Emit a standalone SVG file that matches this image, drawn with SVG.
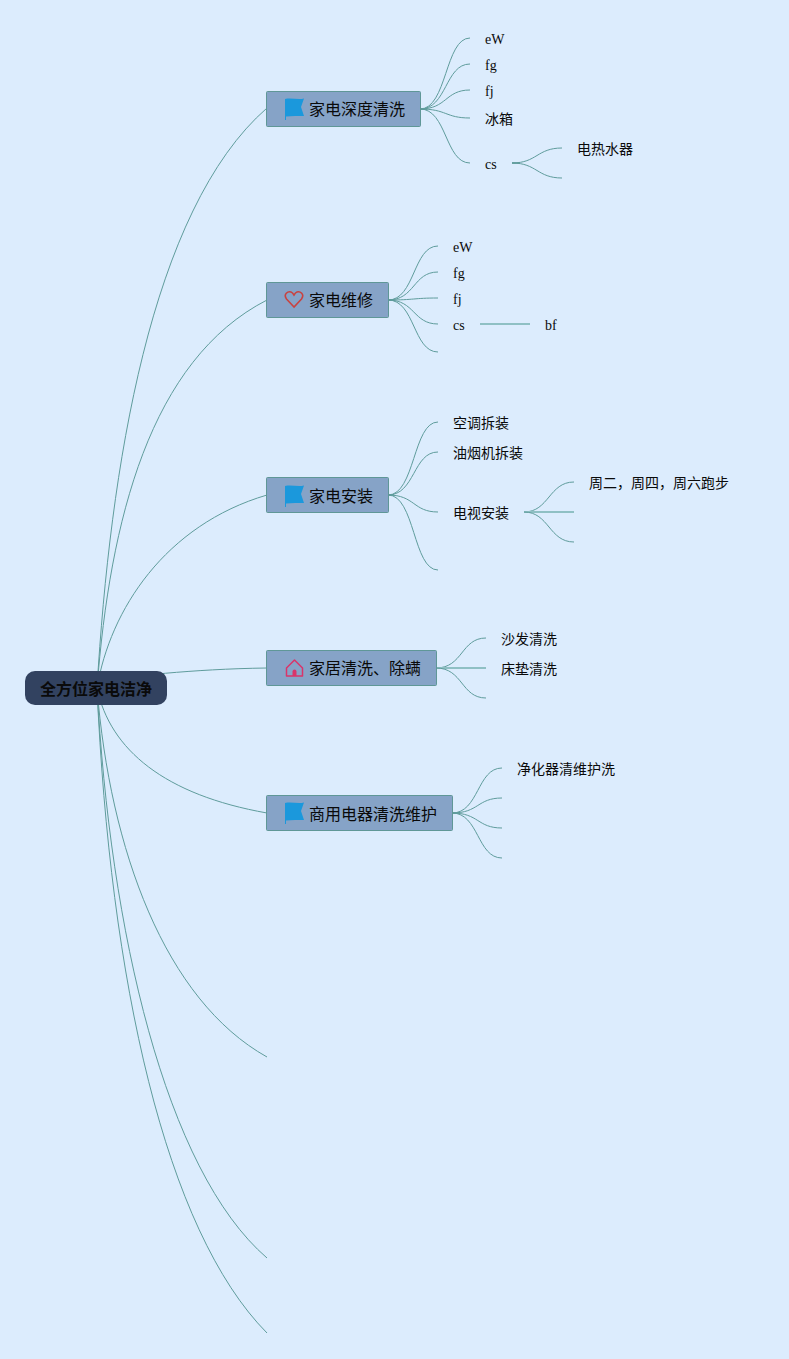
<svg xmlns="http://www.w3.org/2000/svg" width="789" height="1359" viewBox="0 0 789 1359">
<style>
.c{fill:none;stroke:#5f9c9c;stroke-width:1}
.t{stroke-width:2;stroke:#8fc0c4}
.s{fill:none;stroke:#5f9c9c;stroke-width:1.500}
.b{fill:#86a3c7;stroke:#5f9797;stroke-width:1}
.n{font:16px "Liberation Serif","Noto Sans CJK SC",serif;fill:#0a0a0a}
.l{font:14px "Liberation Serif","Noto Sans CJK SC",serif;fill:#0a0a0a}
.r{font:bold 16px "Liberation Serif","Noto Sans CJK SC",serif;fill:#0a0a0a}
</style>
<defs>
<path id="flag" d="M0 1C6 -0.500 13 2 19 0.500L16 9L19 18C13 18 7 18 1 18.500V22H0Z" fill="#1b98dc"/>
</defs>
<rect width="789" height="1359" fill="#dcecfd"/>
<g id="connectors">
<path class="c" d="M97 688C110 470 150 210 267 108"/>
<path class="c" d="M97 688C110 520 150 360 267 300"/>
<path class="c" d="M97 688C110 610 165 525 267 495"/>
<path class="c" d="M97 680C130 677 190 669 267 668"/>
<path class="c" d="M97 688C110 750 165 795 267 813"/>
<path class="c" d="M97 688C110 850 165 1000 267 1057"/>
<path class="c" d="M97 688C110 930 165 1170 267 1258"/>
<path class="c" d="M97 688C110 980 165 1230 267 1333"/>
<path class="s" d="M420 109h7M512 163h8M388 300h6M388 495h6M524 512h8M436 668h7M452 813h7"/>
<path class="c" d="M420 109C447 109 445 38 470 38"/>
<path class="c" d="M420 109C447 109 445 64 470 64"/>
<path class="c" d="M420 109C447 109 445 90 470 90"/>
<path class="c" d="M420 109C447 109 445 118 470 118"/>
<path class="c" d="M420 109C447 109 445 163 470 163"/>
<path class="c" d="M512 163C537 163 537 148 562 148"/>
<path class="c" d="M512 163C537 163 537 178 562 178"/>
<path class="c" d="M388 300C415 300 413 246 438 246"/>
<path class="c" d="M388 300C415 300 413 272 438 272"/>
<path class="c" d="M388 300C415 300 413 298 438 298"/>
<path class="c" d="M388 300C415 300 413 324 438 324"/>
<path class="c" d="M388 300C415 300 413 352 438 352"/>
<path class="c t" d="M480 324H530"/>
<path class="c" d="M388 495C415 495 413 422 438 422"/>
<path class="c" d="M388 495C415 495 413 452 438 452"/>
<path class="c" d="M388 495C415 495 413 512 438 512"/>
<path class="c" d="M388 495C415 495 413 570 438 570"/>
<path class="c" d="M524 512C549 512 549 482 574 482"/>
<path class="c t" d="M524 512H574"/>
<path class="c" d="M524 512C549 512 549 542 574 542"/>
<path class="c" d="M436 668C463 668 461 638 486 638"/>
<path class="c t" d="M436 668H486"/>
<path class="c" d="M436 668C463 668 461 698 486 698"/>
<path class="c" d="M452 813C479 813 477 768 502 768"/>
<path class="c" d="M452 813C479 813 477 798 502 798"/>
<path class="c" d="M452 813C479 813 477 828 502 828"/>
<path class="c" d="M452 813C479 813 477 858 502 858"/>
</g>
<g id="root">
<rect x="25" y="671" width="142" height="34" rx="10" fill="#324260"/>
<text class="r" x="40" y="695">全方位家电洁净</text>
</g>
<g id="n1">
<rect class="b" x="266.500" y="91.500" width="154" height="35" rx="1"/>
<use href="#flag" x="285" y="98"/>
<text class="n" x="309" y="115">家电深度清洗</text>
</g>
<g id="n2">
<rect class="b" x="266.500" y="282.500" width="122" height="35" rx="1"/>
<path d="M294 307L286.500 299C283 294 288 291 291 292C292.500 292.500 294 295 294 295C294 295 295.500 292.500 297 292C300 291 305 294 301.500 299Z" fill="none" stroke="#c9423f" stroke-width="1.600"/>
<text class="n" x="309" y="306">家电维修</text>
</g>
<g id="n3">
<rect class="b" x="266.500" y="477.500" width="122" height="35" rx="1"/>
<use href="#flag" x="285" y="485"/>
<text class="n" x="309" y="502">家电安装</text>
</g>
<g id="n4">
<rect class="b" x="266.500" y="650.500" width="170" height="35" rx="1"/>
<path d="M286.500 668L294.500 660L302.500 668V676H286.500Z" fill="none" stroke="#d9346a" stroke-width="1.500" stroke-linejoin="round"/>
<path d="M292.500 676V671.500A2 2 0 0 1 296.500 671.500V676Z" fill="#d9346a"/>
<text class="n" x="309" y="674">家居清洗、除螨</text>
</g>
<g id="n5">
<rect class="b" x="266.500" y="795.500" width="186" height="35" rx="1"/>
<use href="#flag" x="285" y="802"/>
<text class="n" x="309" y="820">商用电器清洗维护</text>
</g>
<g id="leaves">
<text class="l" x="485" y="44">eW</text>
<text class="l" x="485" y="70">fg</text>
<text class="l" x="485" y="96">fj</text>
<text class="l" x="485" y="124">冰箱</text>
<text class="l" x="485" y="169">cs</text>
<text class="l" x="577" y="154">电热水器</text>
<text class="l" x="453" y="252">eW</text>
<text class="l" x="453" y="278">fg</text>
<text class="l" x="453" y="304">fj</text>
<text class="l" x="453" y="330">cs</text>
<text class="l" x="545" y="330">bf</text>
<text class="l" x="453" y="428">空调拆装</text>
<text class="l" x="453" y="458">油烟机拆装</text>
<text class="l" x="453" y="518">电视安装</text>
<text class="l" x="589" y="488">周二，周四，周六跑步</text>
<text class="l" x="501" y="644">沙发清洗</text>
<text class="l" x="501" y="674">床垫清洗</text>
<text class="l" x="517" y="774">净化器清维护洗</text>
</g>
</svg>
